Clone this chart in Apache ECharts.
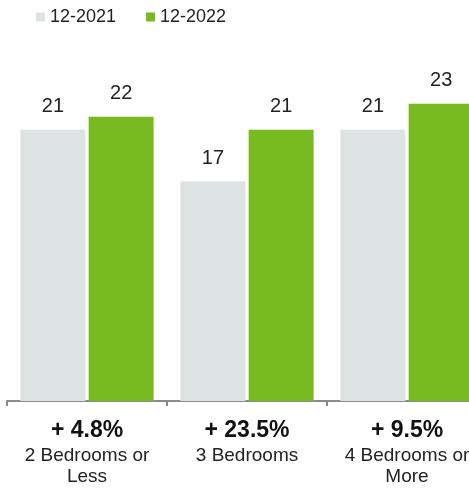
<!DOCTYPE html>
<html>
<head>
<meta charset="utf-8">
<script src="https://cdn.jsdelivr.net/npm/echarts@6/dist/echarts.min.js"></script>
<style>
  html, body { margin: 0; padding: 0; background: #fff; }
  #chart { width: 469px; height: 488px; }
</style>
</head>
<body>
<div id="chart"></div>
<script>
// Median days on market by home size, year over year
const categories = ['2 Bedrooms or\nLess', '3 Bedrooms', '4 Bedrooms or\nMore'];
const changes = ['+ 4.8%', '+ 23.5%', '+ 9.5%'];
const series2021 = [21, 17, 21];
const series2022 = [22, 21, 23];
const seriesNames = ['12-2021', '12-2022'];

const chart = echarts.init(document.getElementById('chart'));
const font = '"Liberation Sans", Arial, Helvetica, sans-serif';

const valueLabel = {
  show: true,
  position: 'top',
  distance: 13,
  fontFamily: font,
  fontSize: 20,
  color: '#222'
};

chart.setOption({
  animation: false,
  textStyle: { fontFamily: font },
  legend: {
    left: 31,
    top: 3,
    icon: 'rect',
    itemWidth: 9,
    itemHeight: 9,
    itemGap: 30,
    textStyle: { fontFamily: font, fontSize: 18, color: '#222', padding: [0, 0, 0, 0] },
    data: seriesNames
  },
  grid: {
    left: 7, top: 78, width: 480, bottom: 87,
    containLabel: false,
    outerBoundsMode: 'none'
  },
  xAxis: {
    type: 'category',
    data: categories,
    axisLine: { lineStyle: { color: '#8a8a8a', width: 2 } },
    axisTick: { show: true, length: 5, lineStyle: { color: '#8a8a8a', width: 2 } },
    axisLabel: {
      margin: 16,
      interval: 0,
      formatter: function (value, idx) {
        const lines = value.split('\n').map(l => '{b|' + l + '}').join('\n');
        return '{a|' + changes[idx] + '}\n' + lines;
      },
      rich: {
        a: { fontFamily: font, fontSize: 23, fontWeight: 'bold', color: '#111', lineHeight: 28 },
        b: { fontFamily: font, fontSize: 19, color: '#222', lineHeight: 21 }
      }
    }
  },
  yAxis: {
    type: 'value',
    min: 0,
    max: 25,
    show: false,
    splitLine: { show: false }
  },
  series: [
    {
      name: seriesNames[0],
      type: 'bar',
      data: series2021,
      barWidth: 65,
      barGap: '5%',
      itemStyle: { color: '#dde3e3' },
      label: valueLabel
    },
    {
      name: seriesNames[1],
      type: 'bar',
      data: series2022,
      barWidth: 65,
      itemStyle: { color: '#78bb21' },
      label: valueLabel
    }
  ]
});
</script>
</body>
</html>
